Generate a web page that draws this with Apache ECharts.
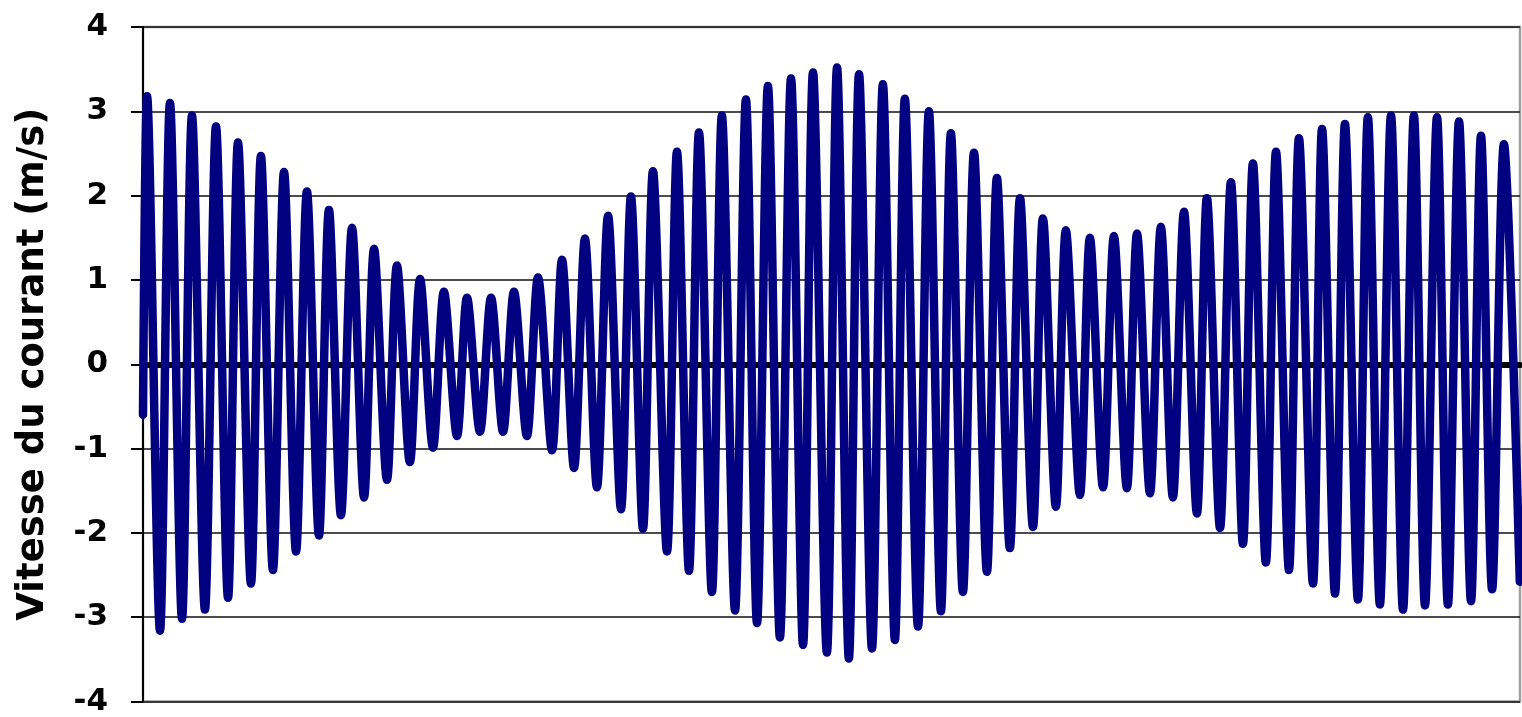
<!DOCTYPE html>
<html>
<head>
<meta charset="utf-8">
<title>Vitesse du courant</title>
<script src="https://cdn.jsdelivr.net/npm/echarts@6/dist/echarts.min.js"></script>
<style>
  html, body { margin: 0; padding: 0; background: #ffffff; }
  #chart { width: 1522px; height: 717px; }
</style>
</head>
<body>
<div id="chart"></div>
<script>
// Successive flood / ebb extremes of the tidal current.
// Time in hours from the start of the record, speed in m/s.
const extremeTimes = [
  0, 2.2, 9.2, 14.6, 21.1, 26.5, 33.5, 39.5, 46.0, 51.4, 58.4,
  63.8, 70.3, 76.3, 82.8, 88.7, 95.2, 100.6, 107.1, 113.1, 119.6,
  125.0, 132.0, 137.4, 144.4, 149.9, 156.9, 162.8, 169.9, 175.3, 182.3,
  188.3, 194.8, 200.7, 207.7, 213.7, 221.3, 226.7, 233.2, 239.1, 245.6,
  251.6, 258.6, 264.0, 270.5, 275.9, 283.5, 288.9, 295.4, 300.8, 307.8,
  313.2, 320.3, 326.2, 332.2, 338.1, 344.6, 350.6, 357.1, 362.5, 370.0,
  375.5, 381.9, 387.4, 394.4, 400.3, 406.8, 412.2, 419.3, 425.2, 431.7,
  437.1, 443.6, 449.6, 456.6, 462.0, 469.0, 474.5, 481.5, 486.9, 493.9,
  499.3, 506.9, 512.3, 519.4, 525.3, 532.3, 537.8, 544.8, 550.7, 557.2,
  563.2, 570.2, 575.6, 582.7, 588.6, 595.1, 600.5, 607.5, 613.0, 620.0,
  625.4, 633.0, 637.9, 644.9, 650.3, 657.3, 662.7, 669.2, 675.2, 681.7,
  687.6, 693.6, 700.1, 706.0, 712.0, 718.5, 723.9, 729.9, 736.3, 744.9
];
const extremeSpeeds = [
  -0.60, 3.18, -3.16, 3.10, -3.02, 2.95, -2.91, 2.82, -2.77, 2.63, -2.60,
  2.47, -2.44, 2.28, -2.22, 2.05, -2.03, 1.83, -1.79, 1.62, -1.58,
  1.37, -1.37, 1.17, -1.16, 1.01, -0.99, 0.86, -0.85, 0.79, -0.80,
  0.79, -0.80, 0.86, -0.85, 1.03, -1.02, 1.24, -1.23, 1.49, -1.46,
  1.76, -1.72, 1.99, -1.95, 2.29, -2.22, 2.52, -2.45, 2.75, -2.70,
  2.95, -2.92, 3.14, -3.07, 3.30, -3.24, 3.39, -3.33, 3.46, -3.42,
  3.52, -3.49, 3.44, -3.37, 3.32, -3.27, 3.15, -3.11, 3.00, -2.93,
  2.74, -2.70, 2.51, -2.46, 2.21, -2.18, 1.97, -1.93, 1.73, -1.69,
  1.59, -1.55, 1.50, -1.46, 1.52, -1.47, 1.55, -1.53, 1.63, -1.58,
  1.81, -1.77, 1.97, -1.94, 2.16, -2.13, 2.38, -2.35, 2.52, -2.44,
  2.68, -2.60, 2.79, -2.72, 2.85, -2.79, 2.93, -2.85, 2.95, -2.91,
  2.95, -2.86, 2.93, -2.85, 2.88, -2.81, 2.71, -2.67, 2.61, -2.58
];
const recordHours = 745;
const speedTicks = { min: -4, max: 4, step: 1 };
const axisTitle = 'Vitesse du courant (m/s)';

const points = extremeTimes.map((t, i) => [t, extremeSpeeds[i]]);

const boldFont = '"DejaVu Sans", "Liberation Sans", Arial, sans-serif';

const chart = echarts.init(document.getElementById('chart'), null, { renderer: 'canvas' });
chart.setOption({
  animation: false,
  backgroundColor: '#ffffff',
  textStyle: { fontFamily: boldFont },
  grid: {
    left: 143, right: 2, top: 27, bottom: 14,
    show: true, borderColor: '#a0a0a0', borderWidth: 2.5, backgroundColor: '#ffffff'
  },
  xAxis: {
    type: 'value', min: 0, max: recordHours,
    axisLine: { show: true, onZero: true, lineStyle: { color: '#000000', width: 6 } },
    axisTick: { show: false }, axisLabel: { show: false }, splitLine: { show: false }
  },
  yAxis: {
    type: 'value', min: speedTicks.min, max: speedTicks.max, interval: speedTicks.step,
    name: axisTitle, nameLocation: 'middle', nameGap: 91, nameRotate: 90,
    nameTextStyle: { fontSize: 37, fontWeight: 'bold', color: '#000000', fontFamily: boldFont },
    axisLine: { show: true, lineStyle: { color: '#000000', width: 2 } },
    axisTick: { show: true, length: 12, lineStyle: { color: '#000000', width: 2 } },
    axisLabel: { fontSize: 31, fontWeight: 'bold', color: '#000000', margin: 35, fontFamily: boldFont },
    splitLine: { show: true, lineStyle: { color: '#111111', width: 1.5 } }
  },
  series: [{
    type: 'line', data: points, smooth: 0.3, showSymbol: false,
    lineStyle: { color: '#000080', width: 8.5, join: 'round', cap: 'round' }, z: 3
  }]
});
</script>
</body>
</html>
